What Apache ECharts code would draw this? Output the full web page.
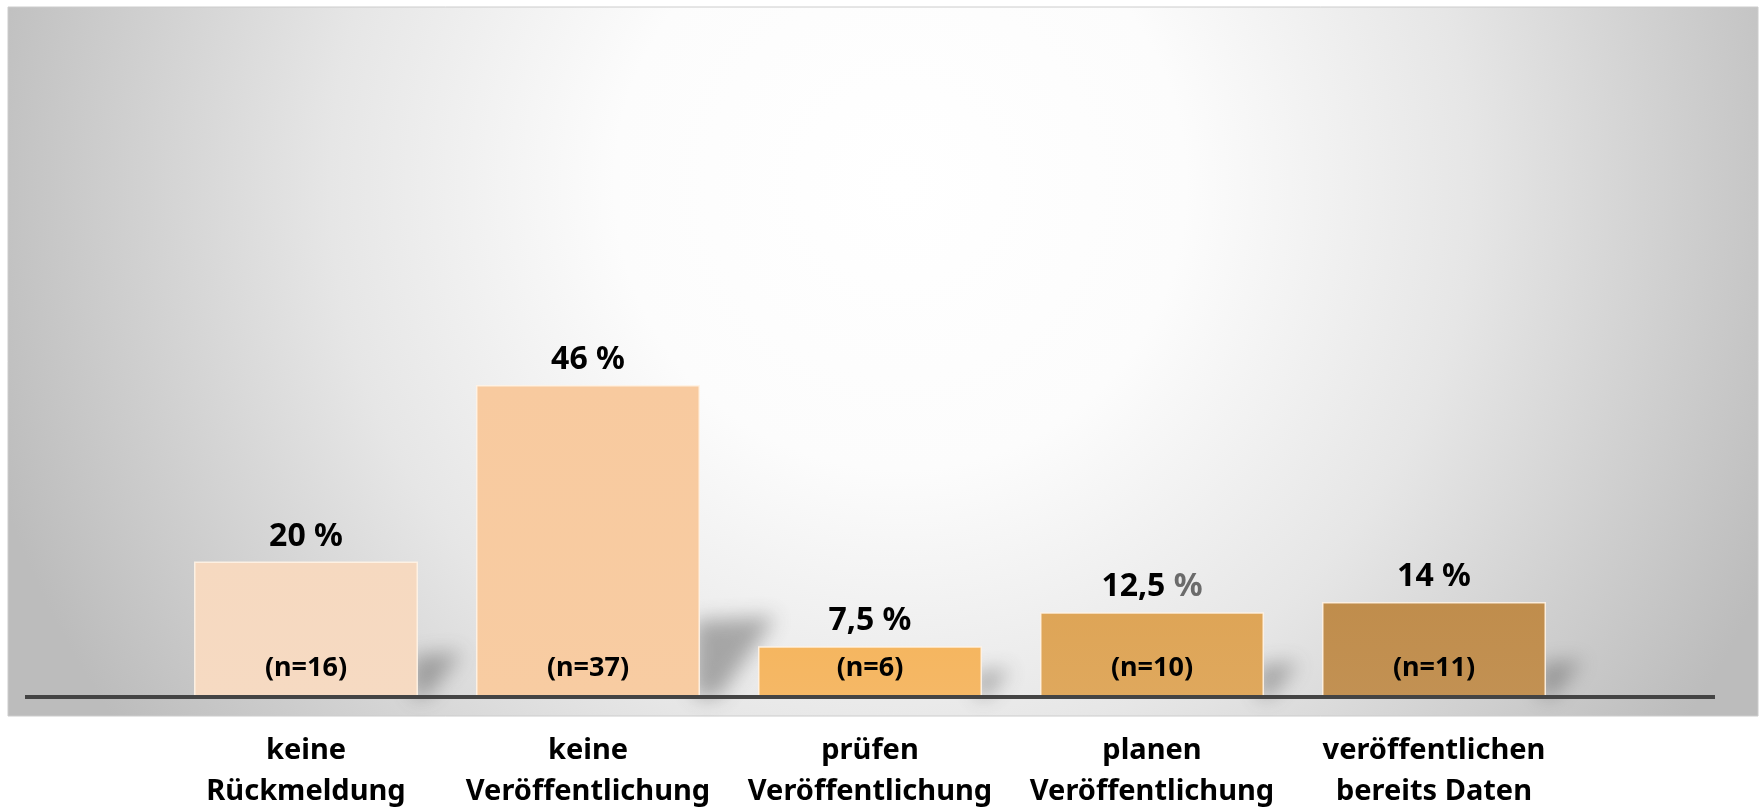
<!DOCTYPE html>
<html>
<head>
<meta charset="utf-8">
<title>Veröffentlichung</title>
<script src="https://cdn.jsdelivr.net/npm/echarts@6/dist/echarts.min.js"></script>
<style>
html,body{margin:0;padding:0;background:#fff;}
#chart{width:1762px;height:809px;}
</style>
</head>
<body>
<div id="chart"></div>
<script>
var kategorien = ['keine\nRückmeldung', 'keine\nVeröffentlichung', 'prüfen\nVeröffentlichung', 'planen\nVeröffentlichung', 'veröffentlichen\nbereits Daten'];
var anteile = [20, 46, 7.5, 12.5, 14];
var anzahl = [16, 37, 6, 10, 11];
var farben = ['#F6D9C0', '#F8CA9F', '#F5B660', '#DEA557', '#C08D4C'];

var grauesProzent = 3; // bei "12,5 %" ist das Prozentzeichen grau

function prozentText(v){
	return String(v).replace('.', ',');
};

var chart = echarts.init(document.getElementById('chart'));

var balken = [];
for(var i=0;i<anteile.length;i++){
	balken.push({
		value: anteile[i],
		itemStyle: {
			color: new echarts.graphic.LinearGradient(0, 0, 0, 1, [
				{offset: 0, color: farben[i]},
				{offset: 1, color: echarts.color.lift(farben[i], 0.04)}
			])
		}
	});
}

var option = {
	backgroundColor: '#ffffff',
	animation: false,
	grid: {left: 165, right: 187, top: 19, bottom: 112, outerBoundsMode: 'none', containLabel: false},
	xAxis: {
		type: 'category',
		data: kategorien,
		axisLine: {show: false},
		axisTick: {show: false},
		axisLabel: {
			interval: 0,
			margin: 33,
			color: '#000',
			fontFamily: 'Noto Sans',
			fontWeight: 'bold',
			fontSize: 29,
			lineHeight: 41
		}
	},
	yAxis: {
		type: 'value',
		min: 0,
		max: 100,
		show: false
	},
	series: [
		{
			type: 'bar',
			barWidth: 224,
			z: 3,
			data: balken,
			itemStyle: {
				borderColor: 'rgba(255,243,230,0.9)',
				borderWidth: 1.5
			},
			label: {
				show: true,
				position: 'top',
				distance: 9,
				color: '#000',
				fontFamily: 'Noto Sans',
				fontWeight: 'bold',
				fontSize: 32,
				formatter: function(p){
					var t = prozentText(p.value);
					if(p.dataIndex == grauesProzent) return '{z|' + t + '} {g|%}';
					return '{z|' + t + ' %}';
				},
				rich: {
					z: {color: '#000', fontFamily: 'Noto Sans', fontWeight: 'bold', fontSize: 32},
					g: {color: '#6b6b6b', fontFamily: 'Noto Sans', fontWeight: 'bold', fontSize: 32}
				}
			},
			labelLayout: {hideOverlap: false}
		},
		{
			// n-Werte unten im Balken
			type: 'bar',
			barWidth: 224,
			barGap: '-100%',
			z: 4,
			data: anteile,
			itemStyle: {color: 'rgba(0,0,0,0)'},
			silent: true,
			label: {
				show: true,
				position: 'insideBottom',
				distance: 15,
				color: '#000',
				fontFamily: 'Noto Sans',
				fontWeight: 'bold',
				fontSize: 27,
				formatter: function(p){
					return '(n=' + anzahl[p.dataIndex] + ')';
				}
			}
		}
	]
};
chart.setOption(option);

// Hintergrund, Grundlinie und Schatten
function zeichneGrafik(){
	var elemente = [];
	var weg = 4000; // Form liegt ausserhalb, nur der weiche Schatten ist sichtbar
	elemente.push({
		type: 'rect',
		z: -10,
		silent: true,
		shape: {x: 8, y: 7, width: 1750, height: 709},
		style: {
			fill: new echarts.graphic.RadialGradient(0.51, 0.25, 1.34, [
				{offset: 0, color: '#ffffff'},
				{offset: 0.3, color: '#fcfcfc'},
				{offset: 0.6, color: '#e6e6e6'},
				{offset: 1, color: '#bcbcbc'}
			]),
			stroke: '#cccccc',
			lineWidth: 1
		}
	});
	for(var i=0;i<anteile.length;i++){
		var unten = chart.convertToPixel({seriesIndex: 0}, [i, 0]);
		var oben = chart.convertToPixel({seriesIndex: 0}, [i, anteile[i]]);
		var h = unten[1] - oben[1];
		var r = unten[0] + 106 - weg;
		var sh = h * 0.2 + 14;
		var sw = h * 0.18 + 26;
		elemente.push({
			type: 'polygon',
			z: 1,
			silent: true,
			shape: {points: [[r, unten[1]], [r, unten[1] - sh], [r + sw, unten[1] - sh - 4], [r + sw * 0.3, unten[1]]]},
			style: {
				fill: '#000',
				shadowBlur: 20,
				shadowOffsetX: weg,
				shadowColor: 'rgba(80,80,80,0.45)'
			}
		});
	}
	var y0 = chart.convertToPixel({seriesIndex: 0}, [0, 0])[1];
	elemente.push({
		type: 'line',
		z: 20,
		silent: true,
		shape: {x1: 25, y1: y0, x2: 1715, y2: y0},
		style: {stroke: '#444444', lineWidth: 4}
	});
	chart.setOption({graphic: elemente});
};
zeichneGrafik();
</script>
</body>
</html>
